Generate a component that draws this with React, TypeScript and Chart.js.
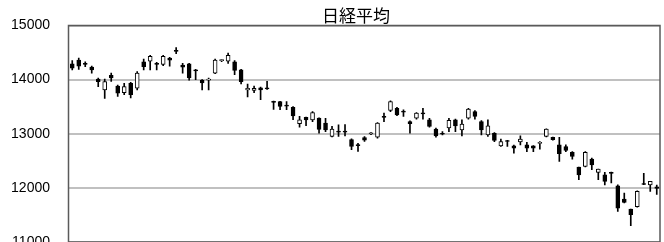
import React, { useEffect, useRef } from "react";
import { Chart, registerables } from "chart.js";

Chart.register(...registerables);

const chartTitle = "日経平均";
const yTicks = [11000, 12000, 13000, 14000, 15000];

const opens = [
  14290, 14360, 14300, 14230, 14010, 13810, 14080, 13880, 13760, 13930,
  13840, 14330, 14340, 14300, 14280, 14400, 14540, 14270, 14290, 14180,
  13990, 13990, 14120, 14350, 14340, 14330, 14180, 13810, 13800, 13850,
  13850, 13600, 13595, 13530, 13490, 13185, 13305, 13255, 13290, 13195,
  12950, 13050, 13050, 12890, 12800, 12930, 12995, 12935, 13320, 13430,
  13470, 13420, 13225, 13290, 13385, 13255, 13085, 13010, 13110, 13255,
  13070, 13290, 13410, 13225, 12980, 13010, 12775, 12875, 12775, 12850,
  12795, 12775, 12820, 12950, 12935, 12795, 12765, 12655, 12385, 12395,
  12530, 12285, 12240, 12285, 12040, 11795, 11610, 11655, 12080, 12055,
  12020,
];
const highs = [
  14350, 14400, 14330, 14250, 14030, 14010, 14120, 13900, 13930, 13950,
  14150, 14380, 14450, 14320, 14450, 14410, 14590, 14300, 14300, 14190,
  14000, 14030, 14380, 14370, 14490, 14350, 14190, 13920, 13880, 13860,
  13970, 13605, 13600, 13595, 13500, 13320, 13310, 13410, 13295, 13285,
  13135, 13165, 13170, 12905, 12825, 12950, 13020, 13205, 13380, 13610,
  13490, 13440, 13240, 13390, 13470, 13285, 13105, 13040, 13285, 13270,
  13255, 13470, 13430, 13245, 13255, 13020, 12900, 12880, 12790, 12960,
  12840, 12780, 12855, 13090, 12940, 12935, 12795, 12670, 12385, 12670,
  12550, 12345, 12285, 12290, 12055, 11905, 11610, 11945, 12270, 12120,
  12050,
];
const lows = [
  14180, 14190, 14240, 14120, 13870, 13655, 13965, 13690, 13720, 13660,
  13810, 14180, 14180, 14180, 14260, 14250, 14480, 14120, 13990, 14000,
  13810, 13810, 14110, 14330, 14300, 14090, 13920, 13680, 13760, 13630,
  13820, 13450, 13445, 13445, 13260, 13120, 13150, 13225, 13010, 13040,
  12940, 12950, 12960, 12705, 12675, 12860, 12985, 12920, 13225, 13410,
  13335, 13320, 13010, 13270, 13270, 13120, 12935, 12980, 13040, 13040,
  12960, 13270, 13270, 12980, 12950, 12855, 12765, 12765, 12640, 12795,
  12670, 12670, 12715, 12940, 12880, 12490, 12670, 12530, 12150, 12385,
  12335, 12150, 12055, 12090, 11565, 11720, 11300, 11645, 12060, 11935,
  11880,
];
const closes = [
  14210, 14250, 14280, 14180, 13960, 13965, 14030, 13750, 13870, 13720,
  14120, 14240, 14430, 14280, 14430, 14360, 14520, 14230, 14030, 14160,
  13940, 14010, 14360, 14370, 14450, 14170, 13960, 13840, 13840, 13810,
  13830, 13580, 13505, 13510, 13330, 13255, 13255, 13390, 13080, 13070,
  13085, 13030, 13030, 12765, 12780, 12880, 13015, 13195, 13300, 13595,
  13350, 13400, 13185, 13380, 13365, 13135, 12960, 12990, 13250, 13145,
  13180, 13455, 13320, 13070, 13145, 12875, 12855, 12860, 12735, 12900,
  12735, 12735, 12840, 13085, 12890, 12630, 12690, 12580, 12240, 12655,
  12425, 12345, 12120, 12265, 11625, 11730, 11505, 11935, 12065, 12120,
  11990,
];

export default function App() {
  const ref = useRef<HTMLCanvasElement>(null);

  useEffect(() => {
    const canvas = ref.current;
    if (!canvas) return;
    const labels = opens.map((_, i) => String(i + 1));
    const bodies = opens.map((o, i) => [Math.min(o, closes[i]), Math.max(o, closes[i])]);
    const wicks = lows.map((l, i) => [l, highs[i]]);
    const fills = opens.map((o, i) => (closes[i] >= o ? "#ffffff" : "#000000"));

    const framePlugin = {
      id: "frame",
      afterDatasetsDraw(chart: any) {
        const { ctx, chartArea: a } = chart;
        ctx.save();
        ctx.strokeStyle = "#5a5a5a";
        ctx.lineWidth = 1.5;
        ctx.strokeRect(a.left - 0.5, a.top, a.right - a.left + 0.5, a.bottom - a.top);
        ctx.restore();
      },
    };
    const titlePlugin = {
      id: "titleText",
      afterDraw(chart: any) {
        const { ctx } = chart;
        ctx.save();
        ctx.font = '17px "Noto Sans CJK JP", "Noto Sans CJK SC", sans-serif';
        ctx.fillStyle = "#000";
        ctx.textAlign = "center";
        ctx.textBaseline = "middle";
        ctx.fillText(chartTitle, 356, 16);
        ctx.restore();
      },
    };

    const chart = new Chart(canvas, {
      type: "bar",
      data: {
        labels,
        datasets: [
          {
            data: bodies as any,
            backgroundColor: fills,
            borderColor: "#000000",
            borderWidth: 1,
            borderSkipped: false,
            barThickness: 4,
            grouped: false,
            order: 1,
          } as any,
          {
            data: wicks as any,
            backgroundColor: "#000000",
            borderWidth: 0,
            barThickness: 1,
            grouped: false,
            order: 2,
          } as any,
        ],
      },
      options: {
        responsive: false,
        animation: false,
        devicePixelRatio: 1,
        layout: { padding: { left: 0, right: 4, top: 25.5, bottom: 20 } },
        plugins: {
          legend: { display: false },
          tooltip: { enabled: false },
          title: { display: false },
        },
        scales: {
          x: { display: false },
          y: {
            min: 11000,
            max: 15000,
            afterFit: (scale: any) => {
              scale.width = 69;
            },
            afterBuildTicks: (scale: any) => {
              scale.ticks = yTicks.map((v) => ({ value: v }));
            },
            ticks: {
              padding: 0,
              color: "#000000",
              font: { family: '"Liberation Sans", Arial, sans-serif', size: 14 },
              callback: (v: any) => String(v),
            },
            grid: {
              color: "#c0c0c0",
              lineWidth: 2,
              drawTicks: true,
              tickLength: 19,
              tickColor: "rgba(0,0,0,0)",
            },
            border: { display: false },
          },
        },
      },
      plugins: [framePlugin, titlePlugin],
    });
    return () => chart.destroy();
  }, []);

  return (
    <div style={{ position: "fixed", left: 0, top: 0, width: 664, height: 242, overflow: "hidden", background: "#fff" }}>
      <canvas ref={ref} width={664} height={262} style={{ display: "block" }} />
    </div>
  );
}
